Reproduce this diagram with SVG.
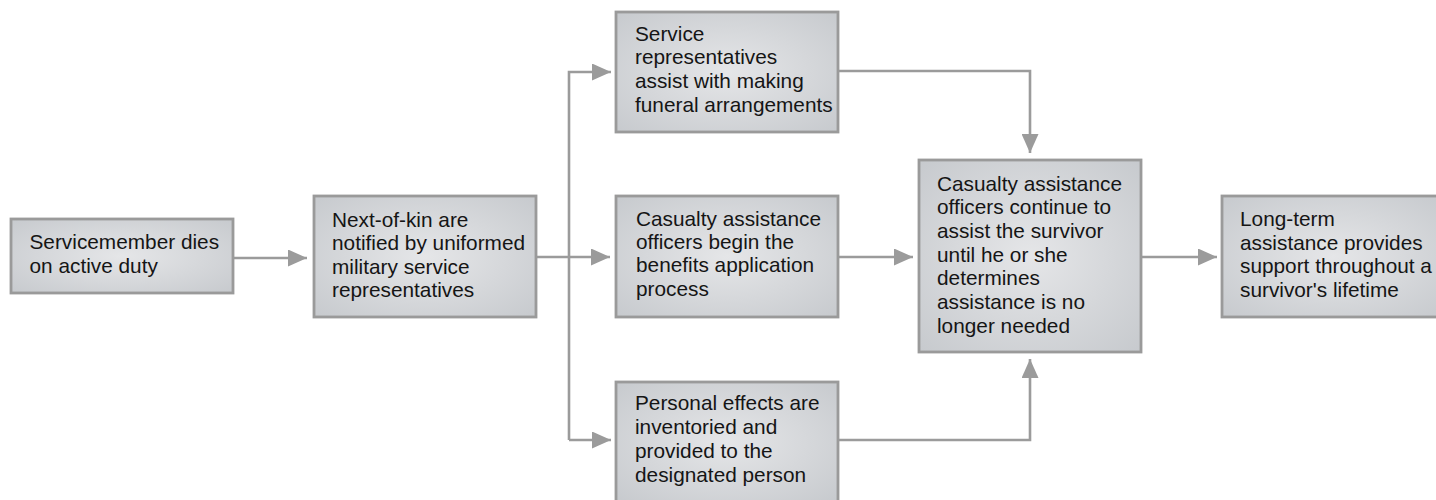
<svg xmlns="http://www.w3.org/2000/svg" width="1436" height="500" viewBox="0 0 1436 500">
<defs>
<radialGradient id="g" cx="0.5" cy="0.5" r="0.72">
<stop offset="0" stop-color="#e5e6e8"/>
<stop offset="1" stop-color="#c6c9cd"/>
</radialGradient>
<marker id="ah" markerWidth="19" markerHeight="17" refX="19" refY="8.5" orient="auto" markerUnits="userSpaceOnUse">
<path d="M0,0 L19,8.5 L0,17 Z" fill="#9b9b9b"/>
</marker>
<style>
.box{fill:url(#g);stroke:#9a9a9a;stroke-width:2.8}
.t{font-family:"Liberation Sans",Arial,sans-serif;font-size:20.8px;fill:#151515}
.c{fill:none;stroke:#9b9b9b;stroke-width:2.6}
</style>
</defs>
<rect width="1436" height="500" fill="#ffffff"/>
<g id="connectors">
<path class="c" d="M233,258 H307" marker-end="url(#ah)"/>
<path class="c" d="M536,257 H610" marker-end="url(#ah)"/>
<path class="c" d="M569,440 V72 H611" marker-end="url(#ah)"/>
<path class="c" d="M569,440 H611" marker-end="url(#ah)"/>
<path class="c" d="M838,71 H1030 V153" marker-end="url(#ah)"/>
<path class="c" d="M838,257 H913" marker-end="url(#ah)"/>
<path class="c" d="M838,440 H1030 V359" marker-end="url(#ah)"/>
<path class="c" d="M1141,257 H1217" marker-end="url(#ah)"/>
</g>
<g id="n1">
<rect class="box" x="11" y="219" width="222" height="74"/>
<text class="t"><tspan x="29.5" y="249">Servicemember dies</tspan><tspan x="29.5" y="273">on active duty</tspan></text>
</g>
<g id="n2">
<rect class="box" x="314" y="196" width="222" height="121"/>
<text class="t"><tspan x="332" y="226.5">Next-of-kin are</tspan><tspan x="332" y="250">notified by uniformed</tspan><tspan x="332" y="273.5">military service</tspan><tspan x="332" y="297">representatives</tspan></text>
</g>
<g id="n3">
<rect class="box" x="616" y="12" width="222" height="120"/>
<text class="t"><tspan x="635" y="40.5">Service</tspan><tspan x="635" y="64">representatives</tspan><tspan x="635" y="88">assist with making</tspan><tspan x="635" y="111.5">funeral arrangements</tspan></text>
</g>
<g id="n4">
<rect class="box" x="616" y="196" width="222" height="121"/>
<text class="t"><tspan x="636" y="225.5">Casualty assistance</tspan><tspan x="636" y="249">officers begin the</tspan><tspan x="636" y="272">benefits application</tspan><tspan x="636" y="295.5">process</tspan></text>
</g>
<g id="n5">
<rect class="box" x="616" y="382" width="222" height="120"/>
<text class="t"><tspan x="635" y="410">Personal effects are</tspan><tspan x="635" y="434">inventoried and</tspan><tspan x="635" y="458">provided to the</tspan><tspan x="635" y="481.5">designated person</tspan></text>
</g>
<g id="n6">
<rect class="box" x="919" y="160" width="222" height="192"/>
<text class="t"><tspan x="937" y="190.5">Casualty assistance</tspan><tspan x="937" y="214">officers continue to</tspan><tspan x="937" y="238">assist the survivor</tspan><tspan x="937" y="261.5">until he or she</tspan><tspan x="937" y="285">determines</tspan><tspan x="937" y="309">assistance is no</tspan><tspan x="937" y="332.5">longer needed</tspan></text>
</g>
<g id="n7">
<rect class="box" x="1222" y="196" width="222" height="121"/>
<text class="t"><tspan x="1240" y="226">Long-term</tspan><tspan x="1240" y="249.5">assistance provides</tspan><tspan x="1240" y="273">support throughout a</tspan><tspan x="1240" y="296.5">survivor's lifetime</tspan></text>
</g>
</svg>
